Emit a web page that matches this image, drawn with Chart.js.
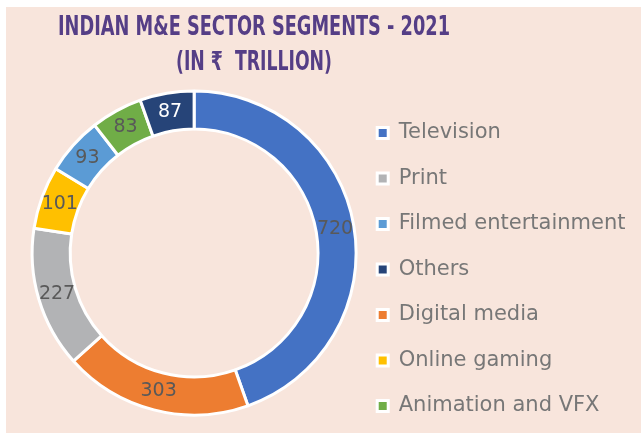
<!DOCTYPE html>
<html>
<head>
<meta charset="utf-8">
<script src="https://cdn.jsdelivr.net/npm/chart.js@4.4.1/dist/chart.umd.min.js"></script>
<style>
  body { margin: 0; background: #fff; overflow: hidden; }
  #panel { position: absolute; left: 6px; top: 7px; width: 635px; height: 426px; background: #f8e5dc; }
  #donut { position: absolute; left: 0; top: 0; }
</style>
</head>
<body>
<div id="panel"></div>
<canvas id="donut" width="641" height="450"></canvas>
<script>
// segments, clockwise from 12 o'clock
var segments = ['Television', 'Digital media', 'Print', 'Online gaming', 'Filmed entertainment', 'Animation and VFX', 'Others'];
var values = [720, 303, 227, 101, 93, 83, 87];
var colors = ['#4472c4', '#ed7d31', '#b2b3b5', '#ffc000', '#5b9bd5', '#70ad47', '#264478'];
// the legend lists them in another order
var legendOrder = ['Television', 'Print', 'Filmed entertainment', 'Others', 'Digital media', 'Online gaming', 'Animation and VFX'];
var titleLines = ['INDIAN M&E SECTOR SEGMENTS - 2021', '(IN \u20b9  TRILLION)'];

var labelFont = '"DejaVu Sans", "Noto Sans", sans-serif';

// values written on the ring
var valueLabels = {
  id: 'valueLabels',
  afterDatasetsDraw: function(chart) {
    var ctx = chart.ctx;
    var meta = chart.getDatasetMeta(0);
    ctx.save();
    ctx.font = '19px ' + labelFont;
    ctx.textAlign = 'center';
    ctx.textBaseline = 'middle';
    meta.data.forEach(function(arc, i) {
      var p = arc.tooltipPosition();
      ctx.fillStyle = segments[i] === 'Others' ? '#ffffff' : '#595959';
      ctx.fillText(values[i], p.x, p.y);
    });
    ctx.restore();
  }
};

// two-line heading, squeezed like the condensed face of the original
var heading = {
  id: 'heading',
  afterDraw: function(chart) {
    var ctx = chart.ctx;
    var widths = [392, 156];
    ctx.save();
    ctx.font = 'bold 26px "DejaVu Sans Condensed", "DejaVu Sans", sans-serif';
    ctx.fillStyle = '#553e86';
    ctx.textAlign = 'center';
    ctx.textBaseline = 'middle';
    titleLines.forEach(function(line, i) {
      ctx.fillText(line, 254, 28.5 + i * 35, widths[i]);
    });
    ctx.restore();
  }
};

var ctx = document.getElementById('donut').getContext('2d');
var chart = new Chart(ctx, {
  type: 'doughnut',
  data: {
    labels: segments,
    datasets: [{
      data: values,
      backgroundColor: colors,
      borderColor: '#ffffff',
      borderWidth: 3,
      radius: 162,
      clip: false
    }]
  },
  options: {
    responsive: false,
    animation: false,
    cutout: '76.5%',
    layout: {
      padding: { left: 35.5, right: 5.5, top: 56, bottom: 0 }
    },
    plugins: {
      tooltip: { enabled: false },
      title: { display: false },
      legend: {
        position: 'right',
        title: { display: true, text: '', padding: { top: 9, bottom: 9.6 } },
        labels: {
          boxWidth: 11,
          boxHeight: 11,
          padding: 24.5,
          color: '#777777',
          font: { family: labelFont, size: 21 },
          sort: function(a, b) {
            return legendOrder.indexOf(a.text) - legendOrder.indexOf(b.text);
          }
        }
      }
    }
  },
  plugins: [valueLabels, heading]
});
</script>
</body>
</html>
